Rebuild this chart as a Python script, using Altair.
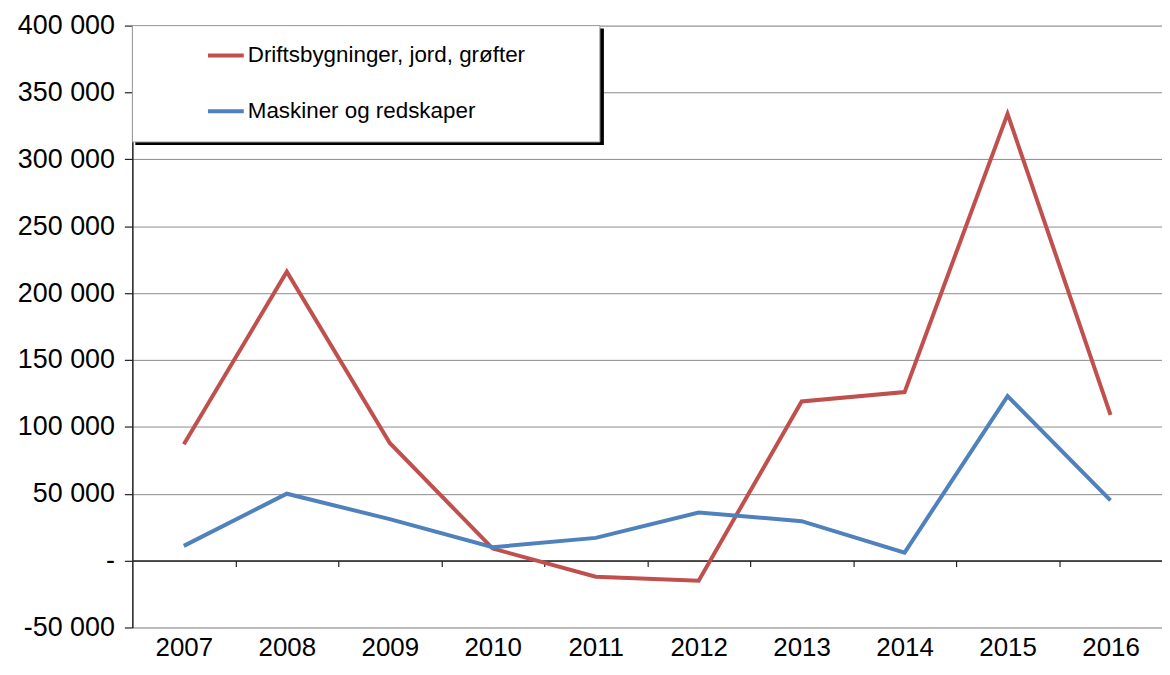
import altair as alt
import pandas as pd

years = [2007, 2008, 2009, 2010, 2011, 2012, 2013, 2014, 2015, 2016]
drifts = [87000, 216000, 88000, 9000, -12000, -15000, 119000, 126000, 334000, 109000]
maskiner = [11000, 50000, 31000, 10000, 17000, 36000, 29500, 6000, 123000, 45000]
series_names = ["Driftsbygninger, jord, grøfter", "Maskiner og redskaper"]
series_colors = ["#C0504D", "#4F81BD"]
y_ticks = [-50000, 0, 50000, 100000, 150000, 200000, 250000, 300000, 350000, 400000]
boundaries = [2007.5, 2008.5, 2009.5, 2010.5, 2011.5, 2012.5, 2013.5, 2014.5, 2015.5]

rows = []
for i, yr in enumerate(years):
    rows.append({"year": yr, "value": drifts[i], "series": series_names[0]})
    rows.append({"year": yr, "value": maskiner[i], "series": series_names[1]})
df = pd.DataFrame(rows)
bdf = pd.DataFrame({"b": boundaries, "v": [0] * len(boundaries)})
one = pd.DataFrame({"k": [1]})

W, H = 1035, 605
FONT = "Liberation Sans"
xscale = alt.Scale(domain=[2006.5, 2016.5], nice=False, zero=False)
yscale = alt.Scale(domain=[-50000, 400000], nice=False)
zero_offset = -(H * 50000 / 450000)

lines = alt.Chart(df).mark_line(strokeWidth=4).encode(
    x=alt.X("year:Q", scale=xscale,
            axis=alt.Axis(orient="bottom", values=years, format="d", title=None, ticks=False,
                          domain=False, grid=False, labelFontSize=26, labelFont=FONT,
                          labelColor="#000", labelPadding=7, labelFlush=False)),
    y=alt.Y("value:Q", scale=yscale,
            axis=alt.Axis(values=y_ticks, title=None, grid=True, gridColor="#8a8a8a",
                          gridWidth=1, domain=True, domainColor="#222", domainWidth=1.5,
                          ticks=True, tickColor="#222", tickSize=8, tickWidth=1.2,
                          labelFontSize=27, labelFont=FONT, labelColor="#000", labelPadding=10,
                          labelExpr="datum.value == 0 ? '-' : (datum.value < 0 ? '-' + replace(format(-datum.value, ','), ',', ' ') : replace(format(datum.value, ','), ',', ' '))")),
    color=alt.Color("series:N", scale=alt.Scale(domain=series_names, range=series_colors),
                    legend=alt.Legend(orient="none", legendX=74, legendY=10, title=None,
                                      symbolType="stroke", symbolSize=1296, symbolStrokeWidth=4,
                                      labelFontSize=22.5, labelFont=FONT, labelColor="#000",
                                      labelOffset=2, rowPadding=24, padding=0,
                                      labelLimit=600)),
)

zero_axis = alt.Chart(bdf).mark_point(opacity=0).encode(
    x=alt.X("b:Q", scale=xscale,
            axis=alt.Axis(orient="bottom", values=boundaries, title=None, labels=False, grid=False,
                          domain=True, domainColor="#222", domainWidth=1.5,
                          ticks=True, tickColor="#222", tickSize=6, tickWidth=1.2,
                          offset=zero_offset)),
    y=alt.Y("v:Q", scale=yscale),
)

shadow = alt.Chart(one).mark_rect(color="#000").encode(
    x=alt.value(3), x2=alt.value(474), y=alt.value(3), y2=alt.value(120))
box = alt.Chart(one).mark_rect(fill="white", stroke="#999", strokeWidth=1).encode(
    x=alt.value(0), x2=alt.value(470), y=alt.value(0), y2=alt.value(117))

chart = alt.layer(zero_axis, lines, shadow, box).resolve_axis(x="independent").properties(
    width=W, height=H,
    autosize=alt.AutoSizeParams(type="none"),
    padding={"left": 125, "top": 16, "right": 0, "bottom": 32},
).configure_view(stroke=None).configure(background="white")

chart.save("out.html", embed_options={"renderer": "svg", "actions": False})
